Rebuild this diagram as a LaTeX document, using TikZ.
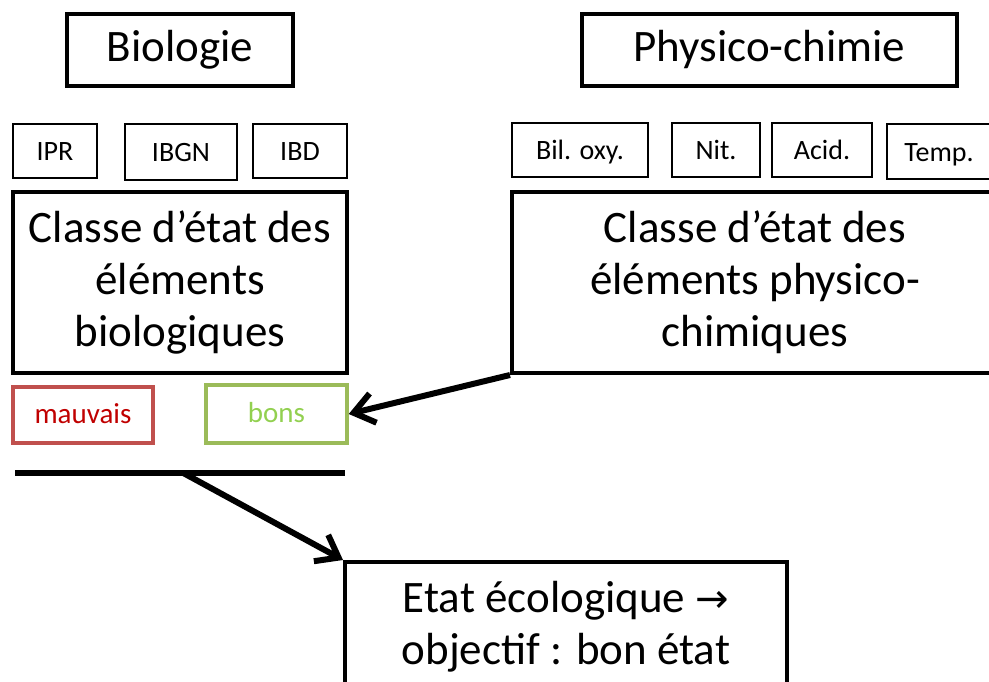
\documentclass[tikz,border=0pt]{standalone}
\usepackage{fontspec}
\setmainfont{Carlito}
\newfontfamily\dejavu{DejaVu Sans}
\usetikzlibrary{arrows.meta,calc}
\definecolor{badred}{HTML}{C0504D}
\definecolor{badtext}{HTML}{C00000}
\definecolor{goodgreen}{HTML}{9BBB59}
\definecolor{goodtext}{HTML}{92D050}
\begin{document}
\begin{tikzpicture}[x=1pt,y=-1pt,
  bigbox/.style={draw,line width=4pt,inner sep=0pt,align=center,
    font=\fontsize{45}{52}\selectfont},
  smallbox/.style={draw,line width=2pt,inner sep=0pt,align=center,
    text height=24pt,text depth=4pt,
    font=\fontsize{28}{30}\selectfont},
  colbox/.style={draw,line width=3.5pt,inner sep=0pt,align=center,
    text height=22pt,text depth=6pt,
    font=\fontsize{29}{30}\selectfont},
  conn/.style={line width=6pt,-{Straight Barb[length=20pt,width=30pt,line width=6pt]}}]
\useasboundingbox (0,0) rectangle (989,682);
\clip (0,0) rectangle (989,682);
\node[bigbox,minimum width=226pt,minimum height=72pt] (bio) at (180,50) {Biologie};
\node[bigbox,minimum width=375pt,minimum height=72pt] (phys) at (769.5,50) {Physico-chimie};
\node[smallbox,minimum width=84pt,minimum height=54pt] (ipr) at (55,151) {IPR};
\node[smallbox,minimum width=112pt,minimum height=56pt] (ibgn) at (181,152) {IBGN};
\node[smallbox,minimum width=94pt,minimum height=54pt] (ibd) at (300,151) {IBD};
\node[smallbox,minimum width=136pt,minimum height=54pt] (bil) at (580,150) {Bil. oxy.};
\node[smallbox,minimum width=88pt,minimum height=54pt] (nit) at (716,150) {Nit.};
\node[smallbox,minimum width=100pt,minimum height=54pt] (acid) at (822,150) {Acid.};
\node[smallbox,minimum width=104pt,minimum height=55pt] (temp) at (939,152) {Temp.};
\node[bigbox,minimum width=334pt,minimum height=181pt] (cbio) at (180,282.5) {Classe d’état des\\éléments\\biologiques};
\node[bigbox,minimum width=486pt,minimum height=181pt] (cphys) at (755,282.5) {Classe d’état des\\éléments physico-\\chimiques};
\node[colbox,draw=badred,text=badtext,minimum width=140pt,minimum height=56pt] (mauv) at (83,415) {mauvais};
\node[colbox,draw=goodgreen,text=goodtext,minimum width=141pt,minimum height=58pt] (bons) at (276.5,414) {bons};
\coordinate (la) at (15,473);
\coordinate (lb) at (345,473);
\draw[line width=6pt] (la) -- (lb);
\node[bigbox,minimum width=442pt,minimum height=130pt] (etat) at (566,627) {Etat écologique {\dejavu\fontsize{40}{52}\selectfont →}\\objectif : bon état};
\draw[conn] (cphys.south west) -- (bons.east);
\draw[conn] ($(la)!0.51!(lb)$) -- (etat.north west);
\end{tikzpicture}
\end{document}
